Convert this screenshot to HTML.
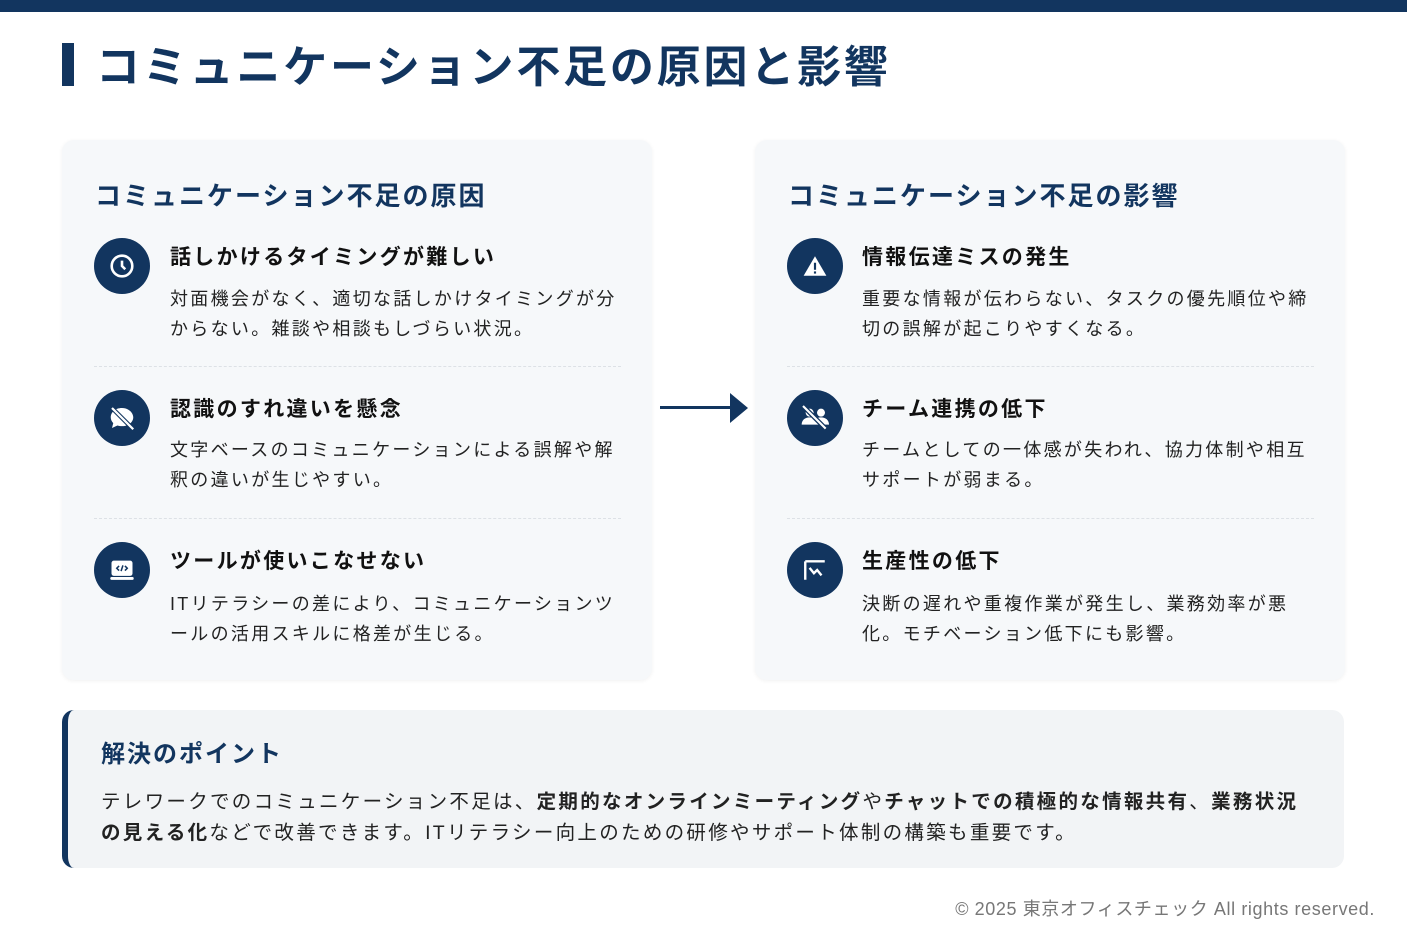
<!DOCTYPE html>
<html><head><meta charset="utf-8"><style>
*{margin:0;padding:0;box-sizing:border-box}
body{width:1407px;height:938px;background:#fff;position:relative;overflow:hidden;font-family:"Liberation Sans","Noto Sans CJK JP",sans-serif;color:#222}
.a{position:absolute;white-space:nowrap}
.navy{color:#12355f}
.card{position:absolute;top:140px;width:590px;height:540px;background:#f6f8fa;border-radius:12px;box-shadow:0 1px 4px rgba(0,0,0,0.06)}
.ic{position:absolute;width:56px;height:56px;border-radius:50%;background:#12355f;display:flex;align-items:center;justify-content:center}
.t{font-size:21px;font-weight:bold;color:#111;letter-spacing:2.3px}
.d{font-size:18px;line-height:30px;color:#222;letter-spacing:2.3px}
.hr{position:absolute;height:0;border-top:1.5px dashed #dde1e6}
</style></head><body>
<div class="a" style="left:0;top:0;width:1407px;height:12px;background:#12355f"></div>
<div class="a" style="left:62px;top:43px;width:12px;height:43px;background:#12355f"></div>
<div class="a navy" style="left:96px;top:40px;font-size:44px;font-weight:bold;line-height:56px;letter-spacing:2.8px">コミュニケーション不足の原因と影響</div>

<div class="card" style="left:62px"></div>
<div class="card" style="left:755px"></div>

<div class="a navy" style="left:95px;top:179px;font-size:26px;font-weight:bold;line-height:34px;letter-spacing:2px">コミュニケーション不足の原因</div>
<div class="a navy" style="left:788px;top:179px;font-size:26px;font-weight:bold;line-height:34px;letter-spacing:2px">コミュニケーション不足の影響</div>

<div class="ic" style="left:94px;top:238px"><svg width="26" height="26" viewBox="0 0 24 24" fill="none" stroke="#fff" stroke-width="2.4"><circle cx="12" cy="12" r="9.5"/><path d="M12 7v5l3 3"/></svg></div>
<div class="a t" style="left:170px;top:241px">話しかけるタイミングが難しい</div>
<div class="a d" style="left:170px;top:284px">対面機会がなく、適切な話しかけタイミングが分<br>からない。雑談や相談もしづらい状況。</div>
<div class="hr" style="left:94px;top:366px;width:527px"></div>

<div class="ic" style="left:94px;top:390px"><svg width="30" height="30" viewBox="0 0 24 24"><path d="M12 4C6.5 4 3 7.5 3 11.5c0 1.8.8 3.4 2 4.6L4 20l4.3-2c1.1.3 2.3.5 3.7.5 5.5 0 9-3.5 9-7S17.5 4 12 4z" fill="#fff"/><path d="M4 4l17 17" stroke="#12355f" stroke-width="3.5"/><path d="M4 4l17 17" stroke="#fff" stroke-width="1.8"/></svg></div>
<div class="a t" style="left:170px;top:393px">認識のすれ違いを懸念</div>
<div class="a d" style="left:170px;top:435px">文字ベースのコミュニケーションによる誤解や解<br>釈の違いが生じやすい。</div>
<div class="hr" style="left:94px;top:518px;width:527px"></div>

<div class="ic" style="left:94px;top:542px"><svg width="28" height="28" viewBox="0 0 24 24"><rect x="3" y="4" width="18" height="13" rx="2" fill="#fff"/><rect x="2" y="18" width="20" height="2.5" rx="1" fill="#fff"/><path d="M9.5 8.5L7.5 10.5l2 2M14.5 8.5l2 2-2 2M12.8 8l-1.6 5" stroke="#12355f" stroke-width="1.3" fill="none"/></svg></div>
<div class="a t" style="left:170px;top:545px">ツールが使いこなせない</div>
<div class="a d" style="left:170px;top:589px">ITリテラシーの差により、コミュニケーションツ<br>ールの活用スキルに格差が生じる。</div>

<div class="a" style="left:660px;top:406px;width:74px;height:3px;background:#12355f"></div>
<svg class="a" style="left:730px;top:393px" width="18" height="30"><path d="M0 0L18 15L0 30z" fill="#12355f"/></svg>

<div class="ic" style="left:787px;top:238px"><svg width="26" height="26" viewBox="0 0 24 24"><path d="M12 3L22.5 21H1.5z" fill="#fff"/><rect x="11" y="9" width="2" height="6.5" fill="#12355f"/><rect x="11" y="17" width="2" height="2" fill="#12355f"/></svg></div>
<div class="a t" style="left:862px;top:241px">情報伝達ミスの発生</div>
<div class="a d" style="left:862px;top:284px">重要な情報が伝わらない、タスクの優先順位や締<br>切の誤解が起こりやすくなる。</div>
<div class="hr" style="left:787px;top:366px;width:527px"></div>

<div class="ic" style="left:787px;top:390px"><svg width="32" height="32" viewBox="0 0 24 24"><circle cx="8" cy="8" r="3" fill="#fff"/><circle cx="16.5" cy="8" r="3" fill="#fff"/><path d="M2 17c0-3.5 2.5-5.5 6-5.5s6 2 6 5.5zM10.5 17c0-3.5 2.5-5.5 6-5.5s6 2 6 5.5z" fill="#fff"/><path d="M3 3l17 17" stroke="#12355f" stroke-width="3.5"/><path d="M3 3l17 17" stroke="#fff" stroke-width="1.6"/></svg></div>
<div class="a t" style="left:862px;top:393px">チーム連携の低下</div>
<div class="a d" style="left:862px;top:435px">チームとしての一体感が失われ、協力体制や相互<br>サポートが弱まる。</div>
<div class="hr" style="left:787px;top:518px;width:527px"></div>

<div class="ic" style="left:787px;top:542px"><svg width="26" height="26" viewBox="0 0 24 24" fill="none" stroke="#fff" stroke-width="2.2"><path d="M3 4v17M3 4h18M7 10l4 5 3-3 4 5"/></svg></div>
<div class="a t" style="left:862px;top:545px">生産性の低下</div>
<div class="a d" style="left:862px;top:589px">決断の遅れや重複作業が発生し、業務効率が悪<br>化。モチベーション低下にも影響。</div>

<div class="a" style="left:62px;top:710px;width:1282px;height:158px;background:#f2f4f6;border-left:6px solid #12355f;border-radius:12px"></div>
<div class="a navy" style="left:101px;top:739px;font-size:24px;font-weight:bold;line-height:32px;letter-spacing:2px">解決のポイント</div>
<div class="a" style="left:101px;top:787px;font-size:19.5px;line-height:31px;color:#222;letter-spacing:2.3px">テレワークでのコミュニケーション不足は、<b>定期的なオンラインミーティング</b>や<b>チャットでの積極的な情報共有</b>、<b>業務状況</b><br><b>の見える化</b>などで改善できます。ITリテラシー向上のための研修やサポート体制の構築も重要です。</div>

<div class="a" style="right:32px;top:897px;font-size:18px;color:#777;line-height:24px;letter-spacing:0.6px">© 2025 東京オフィスチェック All rights reserved.</div>
</body></html>
